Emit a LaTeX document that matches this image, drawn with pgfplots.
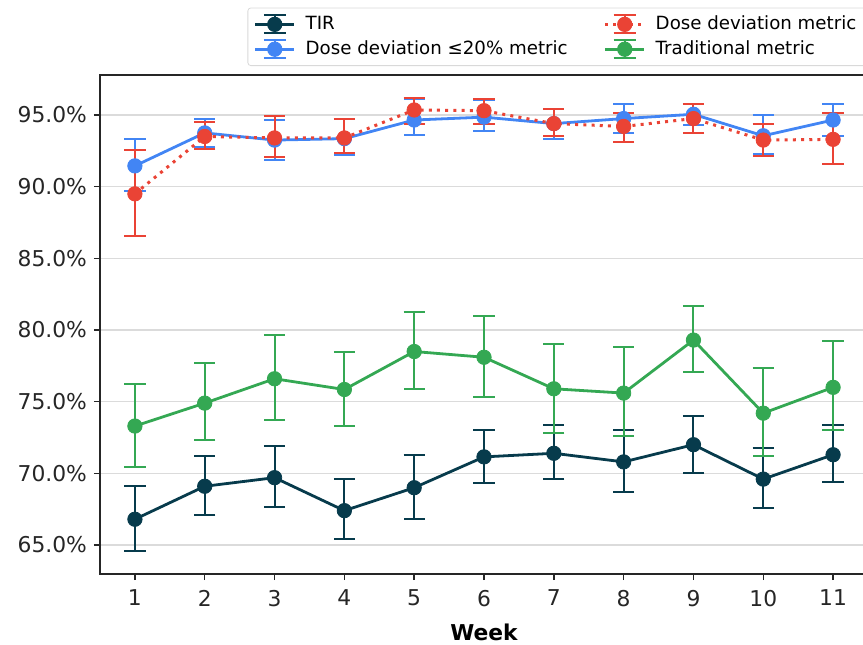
\documentclass[border=0pt]{standalone}
\usepackage{fontspec}
\setmainfont{DejaVu Sans}
\usepackage{pgfplots}
\usepackage{pgfplotstable}
\pgfplotsset{compat=1.18}

\definecolor{cnavy}{HTML}{073B4C}
\definecolor{cblue}{HTML}{4285F4}
\definecolor{cred}{HTML}{EA4335}
\definecolor{cgreen}{HTML}{34A853}

% mean, lower and upper end of the error bar, per week
\pgfplotstableread{
week mean lo hi
1 66.8 64.6 69.1
2 69.1 67.1 71.2
3 69.7 67.65 71.9
4 67.4 65.4 69.6
5 69.0 66.8 71.3
6 71.15 69.3 73.0
7 71.4 69.6 73.4
8 70.8 68.7 73.0
9 72.0 70.0 74.0
10 69.6 67.6 71.8
11 71.3 69.4 73.4
}\tir

\pgfplotstableread{
week mean lo hi
1 91.45 89.7 93.3
2 93.75 92.75 94.75
3 93.25 91.85 94.65
4 93.35 92.2 94.7
5 94.65 93.6 96.1
6 94.85 93.85 96.05
7 94.4 93.3 95.45
8 94.75 93.75 95.75
9 95.05 94.3 95.8
10 93.55 92.3 95.0
11 94.65 93.5 95.8
}\devtwenty

\pgfplotstableread{
week mean lo hi
1 89.5 86.55 92.55
2 93.5 92.6 94.5
3 93.4 92.1 94.9
4 93.4 92.35 94.7
5 95.35 94.4 96.2
6 95.3 94.4 96.15
7 94.4 93.5 95.4
8 94.2 93.15 95.15
9 94.75 93.75 95.8
10 93.25 92.15 94.4
11 93.3 91.6 95.15
}\dev

\pgfplotstableread{
week mean lo hi
1 73.3 70.45 76.25
2 74.9 72.3 77.7
3 76.6 73.7 79.65
4 75.85 73.3 78.5
5 78.5 75.9 81.25
6 78.1 75.35 81.0
7 75.9 72.85 79.0
8 75.6 72.6 78.8
9 79.3 77.05 81.65
10 74.2 71.2 77.35
11 76.0 73.0 79.2
}\trad

\pgfplotsset{
  ebar/.style={
    line width=1.4pt, mark=*, mark size=3.6pt, mark options={solid, line width=0.4pt},
    error bars/y dir=both, error bars/y explicit,
    error bars/error bar style={line width=1pt, solid},
    error bars/error mark options={rotate=90, mark size=5.3pt, line width=1pt, solid},
  },
}

\begin{document}
\begin{tikzpicture}
\begin{axis}[
  scale only axis, width=384pt, height=249.5pt,
  xmin=0.5, xmax=11.5, ymin=62.98, ymax=97.79,
  xtick={1,...,11}, ytick={65,70,...,95},
  /pgf/number format/assume math mode=true,
  yticklabel={\pgfmathprintnumber[fixed,fixed zerofill,precision=1]{\tick}\%},
  tick label style={font=\fontsize{10.9}{13}\selectfont, text=black!85},
  xticklabel style={yshift=-1.5pt},
  xlabel={Week}, xlabel style={font=\fontsize{10.9}{13}\selectfont\bfseries, yshift=-2pt},
  ymajorgrids, grid style={line width=0.8pt, black!14},
  axis line style={line width=0.75pt, black!85},
  tick style={line width=0.75pt, black!85},
  major tick length=3pt, tick align=outside, tick pos=left,
  legend columns=2, transpose legend, legend cell align=left,
  legend style={at={(0.192,1.018)}, anchor=south west,
    font=\fontsize{9.1}{11}\selectfont, draw=black!15, rounded corners=1.5pt,
    inner ysep=2pt,
    /tikz/every odd column/.append style={column sep=3pt},
    /tikz/every even column/.append style={column sep=16pt}},
  legend image code/.code={
    \draw[mark repeat=2,mark phase=2,#1] plot coordinates {(0pt,0pt) (9.75pt,0pt) (19.5pt,0pt)};
    \draw[#1,solid,line width=1pt] (9.75pt,-4.5pt) -- (9.75pt,4.5pt)
      (4.25pt,-4.5pt) -- (15.25pt,-4.5pt) (4.25pt,4.5pt) -- (15.25pt,4.5pt);
  },
]
\addplot[cnavy, ebar] table[x=week, y=mean,
  y error plus expr=\thisrow{hi}-\thisrow{mean},
  y error minus expr=\thisrow{mean}-\thisrow{lo}] {\tir};
\addlegendentry{TIR}
\addplot[cblue, ebar] table[x=week, y=mean,
  y error plus expr=\thisrow{hi}-\thisrow{mean},
  y error minus expr=\thisrow{mean}-\thisrow{lo}] {\devtwenty};
\addlegendentry{Dose deviation ≤20\% metric}
\addplot[cred, ebar, line width=1.5pt, dash pattern=on 1.5pt off 2.6pt] table[x=week, y=mean,
  y error plus expr=\thisrow{hi}-\thisrow{mean},
  y error minus expr=\thisrow{mean}-\thisrow{lo}] {\dev};
\addlegendentry{Dose deviation metric}
\addplot[cgreen, ebar] table[x=week, y=mean,
  y error plus expr=\thisrow{hi}-\thisrow{mean},
  y error minus expr=\thisrow{mean}-\thisrow{lo}] {\trad};
\addlegendentry{Traditional metric}
\end{axis}
\pgfresetboundingbox
\path (current axis.south west) ++(-50pt,-35pt) rectangle ++(431.5pt,322pt);
\end{tikzpicture}
\end{document}
